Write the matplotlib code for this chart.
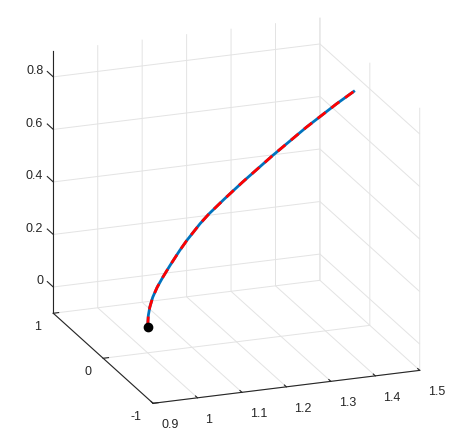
import matplotlib
matplotlib.use('Agg')
import matplotlib.pyplot as plt
from matplotlib.ticker import NullFormatter
from matplotlib.transforms import offset_copy
from mpl_toolkits.mplot3d import proj3d

# ---- data ----
z_path = [0.0, 0.042, 0.073, 0.109, 0.145, 0.180, 0.221, 0.274, 0.309, 0.367,
          0.400, 0.450, 0.5045, 0.592, 0.684, 0.759, 0.8006]
x_path = [1.0, 1.0016, 1.0050, 1.0115, 1.0215, 1.0340, 1.0500, 1.0720, 1.0880, 1.1180,
          1.1380, 1.1730, 1.2130, 1.2810, 1.3570, 1.4250, 1.4663]
y_path = [0.0] * len(x_path)
start_pt = [1.0, 0.0, 0.0]

x_ticks = [0.9, 1.0, 1.1, 1.2, 1.3, 1.4, 1.5]
y_ticks = [-1, 0, 1]
z_ticks = [0, 0.2, 0.4, 0.6, 0.8]
x_lim = (0.9, 1.5)
y_lim = (-1, 1)
z_lim = (-0.1, 0.9)

W, H = 460, 438
TXT = '#262626'
plt.rcParams['font.family'] = ['Liberation Sans', 'DejaVu Sans']
plt.rcParams['grid.color'] = '#e3e3e3'
plt.rcParams['grid.linewidth'] = 0.7

fig = plt.figure(figsize=(W / 100, H / 100), dpi=100)
ax = fig.add_subplot(projection='3d', proj_type='ortho')
ax.set_position([0.1, 0.1, 0.8, 0.8 * W / H])

ax.plot(x_path, y_path, z_path, color='#0072BD', lw=2.0, solid_capstyle='butt')
ax.plot(x_path, y_path, z_path, color='#FF0000', lw=2.0, linestyle=(0, (3.6, 2.6)))
ax.plot([start_pt[0]], [start_pt[1]], [start_pt[2]], 'o', color='black', ms=6)

ax.set_xlim(*x_lim)
ax.set_ylim(*y_lim)
ax.set_zlim(*z_lim)
ax.set_xticks(x_ticks)
ax.set_yticks(y_ticks)
ax.set_zticks(z_ticks)
for a in (ax.xaxis, ax.yaxis, ax.zaxis):
    a.set_major_formatter(NullFormatter())
    a.set_pane_color((1, 1, 1, 0))
    a.pane.set_edgecolor((1, 1, 1, 0))
    a.line.set_color(TXT)
    a.line.set_linewidth(0.8)
    a._axinfo['grid']['color'] = '#e3e3e3'
    a._axinfo['grid']['linewidth'] = 0.7
    a._axinfo['tick']['inward_factor'] = 0.0
    a._axinfo['tick']['outward_factor'] = 0.25
ax.zaxis._axinfo['tick']['outward_factor'] = 0.0
ax.tick_params(colors=TXT)

ax.view_init(elev=19.5, azim=-110.3)
ax.set_box_aspect((284.7, 288, 279))

# ---- fit the projected box to the reference layout ----
def box_extent():
    fig.canvas.draw()
    M = ax.get_proj()
    def disp(p):
        xs, ys, _ = proj3d.proj_transform(p[0], p[1], p[2], M)
        return ax.transData.transform((xs, ys))
    left = disp((x_lim[0], y_lim[1], z_lim[0]))[0]
    right = disp((x_lim[1], y_lim[0], z_lim[0]))[0]
    top = disp((x_lim[1], y_lim[1], z_lim[1]))[1]
    bottom = disp((x_lim[0], y_lim[0], z_lim[0]))[1]
    return left, right, top, bottom

target = (53, 420, H - 18, H - 403)
for _ in range(3):
    l, r, t, b = box_extent()
    bb = ax.get_position()
    ax_cx = (bb.x0 + bb.width / 2) * W
    ax_cy = (bb.y0 + bb.height / 2) * H
    S = bb.width * W
    ratio = 0.5 * ((target[1] - target[0]) / (r - l) + (target[2] - target[3]) / (t - b))
    mcx, mcy = (l + r) / 2, (t + b) / 2
    tcx, tcy = (target[0] + target[1]) / 2, (target[2] + target[3]) / 2
    nS = S * ratio
    ncx = tcx - (mcx - ax_cx) * ratio
    ncy = tcy - (mcy - ax_cy) * ratio
    ax.set_position([(ncx - nS / 2) / W, (ncy - nS / 2) / H, nS / W, nS / H])

# ---- z-axis ticks (pointing along +y, as in the reference) ----
ztick_len = 0.12 * (y_lim[1] - y_lim[0]) / 2
for v in z_ticks:
    ax.plot([x_lim[0], x_lim[0]], [y_lim[1], y_lim[1] + ztick_len], [v, v],
            color=TXT, lw=0.8, clip_on=False)

ax.set_xlim(*x_lim)
ax.set_ylim(*y_lim)
ax.set_zlim(*z_lim)
fig.canvas.draw()
M = ax.get_proj()

# ---- tick labels (2D text at the projected tick positions) ----
fs = 9
def lab(x, y, z, s, dx, dy, ha):
    xs, ys, _ = proj3d.proj_transform(x, y, z, M)
    ax.text2D(xs, ys, s, ha=ha, va='baseline', fontsize=fs, color=TXT,
              transform=offset_copy(ax.transData, fig=fig, x=dx, y=dy, units='dots'))

for v in x_ticks:
    lab(v, y_lim[0], z_lim[0], f'{v:g}', 8.0, -25.0, 'left')
for v in y_ticks:
    lab(x_lim[0], v, z_lim[0], f'{v:g}', -12, -17.0, 'right')
for v in z_ticks:
    lab(x_lim[0], y_lim[1], v, f'{v:g}', -10, 2.5, 'right')

fig.savefig('out.png', dpi=100)
